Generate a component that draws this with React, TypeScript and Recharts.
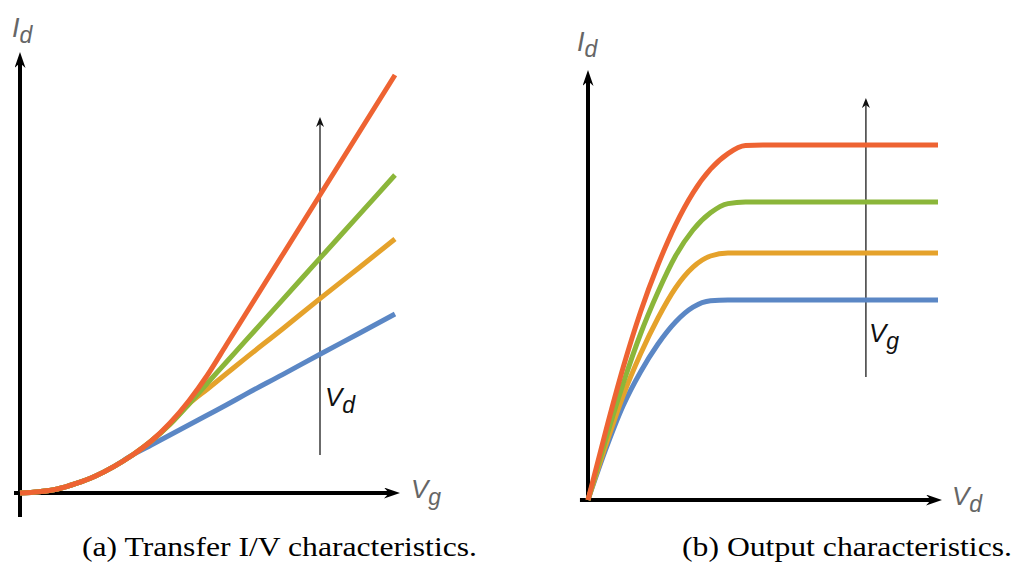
import { LineChart, Line, XAxis, YAxis, ReferenceLine } from "recharts";

// (a) transfer characteristics, Id vs Vg for 4 drain voltages
const transferVg = [0, 0.5, 1, 1.5, 2, 2.5, 3, 3.5, 4, 4.5, 5, 5.5, 6, 7, 8, 9, 10];
const transferBlue = [0, 0.03, 0.1, 0.24, 0.42, 0.66, 0.95, 1.2, 1.45, 1.7, 1.95, 2.2, 2.46, 2.96, 3.47, 3.97, 4.475];
const transferOrange = [0, 0.03, 0.1, 0.24, 0.42, 0.66, 0.95, 1.3, 1.72, 2.22, 2.6, 2.98, 3.36, 4.1, 4.86, 5.6, 6.35];
const transferGreen = [0, 0.03, 0.1, 0.24, 0.42, 0.66, 0.95, 1.3, 1.72, 2.22, 2.75, 3.27, 3.79, 4.83, 5.87, 6.91, 7.95];
const transferRed = [0, 0.03, 0.1, 0.24, 0.42, 0.66, 0.95, 1.3, 1.75, 2.3, 2.95, 3.7, 4.45, 5.95, 7.45, 8.95, 10.45];

// (b) output characteristics, Id vs Vd for 4 gate voltages
const outputVd = [0, 0.5, 1, 1.5, 2, 2.5, 3, 3.5, 4, 4.5, 5, 6, 7, 8, 9, 10];
const outputBlue = [0, 1.25, 2.35, 3.2, 3.9, 4.45, 4.82, 4.98, 5.0, 5.0, 5.0, 5.0, 5.0, 5.0, 5.0, 5.0];
const outputOrange = [0, 1.35, 2.6, 3.65, 4.55, 5.3, 5.82, 6.1, 6.175, 6.175, 6.175, 6.175, 6.175, 6.175, 6.175, 6.175];
const outputGreen = [0, 1.5, 2.9, 4.15, 5.2, 6.1, 6.75, 7.18, 7.41, 7.45, 7.45, 7.45, 7.45, 7.45, 7.45, 7.45];
const outputRed = [0, 1.7, 3.3, 4.7, 5.88, 6.88, 7.68, 8.27, 8.66, 8.86, 8.875, 8.875, 8.875, 8.875, 8.875, 8.875];

const COLORS = { blue: "#5b87c5", orange: "#e5a22b", green: "#8bb63a", red: "#ee6332" };

const transferData = transferVg.map((x, i) => ({
  x,
  blue: transferBlue[i],
  orange: transferOrange[i],
  green: transferGreen[i],
  red: transferRed[i],
}));

const outputData = outputVd.map((x, i) => ({
  x,
  blue: outputBlue[i],
  orange: outputOrange[i],
  green: outputGreen[i],
  red: outputRed[i],
}));

const arrowShape = (marker: string, color: string, width: number) => (p: any) =>
  (
    <line
      x1={p.x1}
      y1={p.y1}
      x2={p.x2}
      y2={p.y2}
      stroke={color}
      strokeWidth={width}
      markerEnd={`url(#${marker})`}
    />
  );

function Markers({ prefix }: { prefix: string }) {
  return (
    <defs>
      <marker
        id={`${prefix}-axis`}
        viewBox="0 0 16 11"
        refX="5"
        refY="5.5"
        markerWidth="16"
        markerHeight="11"
        markerUnits="userSpaceOnUse"
        orient="auto"
      >
        <path d="M0,0 L16,5.5 L0,11 L5,5.5 z" fill="#000" />
      </marker>
      <marker
        id={`${prefix}-thin`}
        viewBox="0 0 10 8"
        refX="3"
        refY="4"
        markerWidth="10"
        markerHeight="8"
        markerUnits="userSpaceOnUse"
        orient="auto"
      >
        <path d="M0,0 L10,4 L0,8 L3,4 z" fill="#111" />
      </marker>
    </defs>
  );
}

function Series() {
  return (
    <>
      {(["blue", "orange", "green", "red"] as const).map((k) => (
        <Line
          key={k}
          type="monotone"
          dataKey={k}
          stroke={COLORS[k]}
          strokeWidth={5}
          dot={false}
          activeDot={false}
          isAnimationActive={false}
        />
      ))}
    </>
  );
}

export default function App() {
  const labelFont = "'Liberation Sans', Arial, sans-serif";
  return (
    <div style={{ position: "absolute", left: 0, top: 0, width: 1020, height: 565, background: "#fff" }}>
      <div style={{ position: "absolute", left: 0, top: 0 }}>
        <LineChart width={510} height={565} data={transferData} margin={{ top: 53, right: 115, bottom: 72, left: 20 }}>
          <Markers prefix="a" />
          <XAxis type="number" dataKey="x" domain={[0, 10]} hide />
          <YAxis type="number" domain={[0, 11]} hide />
          <ReferenceLine
            segment={[{ x: -0.16, y: 0 }, { x: 9.84, y: 0 }]}
            ifOverflow="visible"
            shape={arrowShape("a-axis", "#000", 4)}
          />
          <ReferenceLine
            segment={[{ x: 0, y: -0.6 }, { x: 0, y: 10.75 }]}
            ifOverflow="visible"
            shape={arrowShape("a-axis", "#000", 4)}
          />
          <ReferenceLine
            segment={[{ x: 8, y: 0.95 }, { x: 8, y: 9.225 }]}
            ifOverflow="visible"
            shape={arrowShape("a-thin", "#3a3a3a", 1.5)}
          />
          {Series()}
        </LineChart>
      </div>
      <div style={{ position: "absolute", left: 510, top: 0 }}>
        <LineChart width={510} height={565} data={outputData} margin={{ top: 60, right: 82, bottom: 65, left: 78 }}>
          <Markers prefix="b" />
          <XAxis type="number" dataKey="x" domain={[0, 10]} hide />
          <YAxis type="number" domain={[0, 11]} hide />
          <ReferenceLine
            segment={[{ x: -0.23, y: 0 }, { x: 9.8, y: 0 }]}
            ifOverflow="visible"
            shape={arrowShape("b-axis", "#000", 4)}
          />
          <ReferenceLine
            segment={[{ x: 0, y: -0.05 }, { x: 0, y: 10.475 }]}
            ifOverflow="visible"
            shape={arrowShape("b-axis", "#000", 4)}
          />
          <ReferenceLine
            segment={[{ x: 7.94, y: 3.075 }, { x: 7.94, y: 9.875 }]}
            ifOverflow="visible"
            shape={arrowShape("b-thin", "#3a3a3a", 1.5)}
          />
          {Series()}
        </LineChart>
      </div>
      <svg
        width={1020}
        height={565}
        style={{ position: "absolute", left: 0, top: 0, pointerEvents: "none" }}
      >
        <g fontFamily={labelFont} fontStyle="italic">
          <text x={12} y={37} fontSize={27} fill="#666">
            I<tspan fontSize={23} dy={6}>d</tspan>
          </text>
          <text x={411} y={498} fontSize={26} fill="#666">
            V<tspan fontSize={23} dy={7}>g</tspan>
          </text>
          <text x={325} y={406} fontSize={26} fill="#111">
            V<tspan fontSize={23} dy={7}>d</tspan>
          </text>
          <text x={577} y={51} fontSize={27} fill="#666">
            I<tspan fontSize={23} dy={6}>d</tspan>
          </text>
          <text x={952} y={505} fontSize={26} fill="#666">
            V<tspan fontSize={23} dy={7}>d</tspan>
          </text>
          <text x={869} y={342} fontSize={26} fill="#111">
            V<tspan fontSize={23} dy={7}>g</tspan>
          </text>
        </g>
        <g fontFamily="'Liberation Serif', 'Times New Roman', serif" fontSize={27} fill="#000">
          <text x={82} y={556} textLength={395} lengthAdjust="spacingAndGlyphs">
            (a) Transfer I/V characteristics.
          </text>
          <text x={682} y={556} textLength={330} lengthAdjust="spacingAndGlyphs">
            (b) Output characteristics.
          </text>
        </g>
      </svg>
    </div>
  );
}
